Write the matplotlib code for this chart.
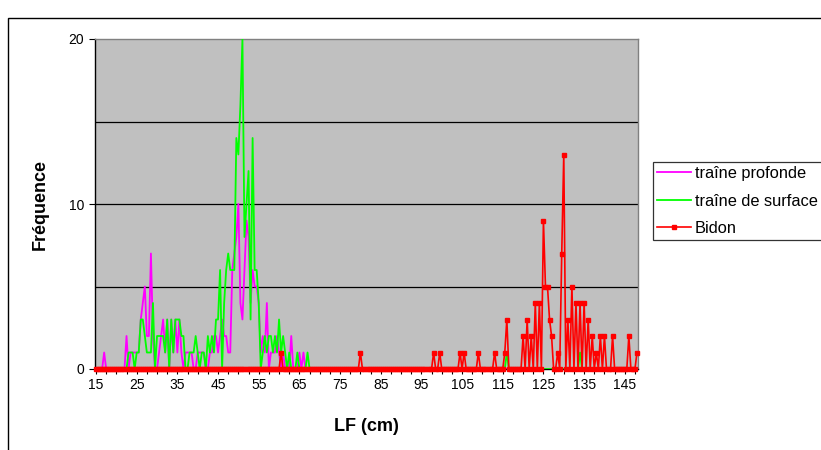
import matplotlib
matplotlib.use("Agg")
import matplotlib.pyplot as plt
from matplotlib.patches import Rectangle
import numpy as np

plt.rcParams["font.family"] = ["Liberation Sans", "DejaVu Sans"]

# LF classes (cm), 0.5 cm steps as in the source sheet
LF_START, LF_STOP, LF_STEP = 15.0, 148.0, 0.5

# traîne profonde: non-zero classes only
PROFONDE_LF = [17, 22.5, 23.5, 24, 24.5, 25, 25.5, 26, 26.5, 27, 27.5, 28, 28.5, 29,
               30.5, 31, 31.5, 32, 32.5, 33.5, 34, 34.5, 35, 35.5, 36, 37, 37.5, 38, 38.5,
               40, 40.5, 41, 41.5, 43, 43.5, 44, 44.5, 45, 45.5, 46, 46.5, 47, 47.5, 48,
               48.5, 49, 49.5, 50, 50.5, 51, 51.5, 52, 52.5, 53, 53.5, 54, 54.5, 55, 55.5,
               56, 56.5, 57, 58, 58.5, 59, 59.5, 60, 61, 63, 65, 66]
PROFONDE_N = [1, 2, 1, 1, 1, 1, 1, 3, 4, 5, 2, 2, 7, 2,
              1, 2, 3, 1, 3, 3, 1, 3, 1, 3, 1, 1, 1, 1, 1,
              1, 1, 1, 1, 1, 1, 2, 2, 1, 2, 3, 2, 2, 1, 1,
              6, 7, 8, 10, 4, 3, 6, 9, 8, 4, 6, 5, 5, 4, 1,
              2, 1, 4, 1, 1, 1, 2, 1, 1, 2, 1, 1]

# traîne de surface
SURFACE_LF = [23, 23.5, 24, 25, 25.5, 26, 26.5, 27, 27.5, 28, 28.5, 29, 30, 30.5, 31,
              31.5, 32, 32.5, 33.5, 34, 34.5, 35, 35.5, 36, 36.5, 38, 38.5, 39, 39.5, 40,
              41, 41.5, 42.5, 43, 43.5, 44, 44.5, 45, 45.5, 46.5, 47, 47.5, 48, 48.5, 49,
              49.5, 50, 50.5, 51, 51.5, 52, 52.5, 53, 53.5, 54, 54.5, 55, 56, 56.5, 57,
              57.5, 58, 58.5, 59, 59.5, 60, 60.5, 61, 61.5, 62.5, 64.5, 67, 116, 134]
SURFACE_N = [1, 1, 1, 1, 1, 3, 3, 2, 1, 1, 1, 4, 2, 2, 2,
             2, 1, 3, 3, 1, 3, 3, 3, 2, 2, 1, 1, 1, 2, 1,
             1, 1, 2, 1, 2, 1, 3, 3, 6, 4, 6, 7, 6, 6, 6,
             14, 13, 16, 20, 8, 10, 12, 3, 14, 6, 6, 4, 1, 2, 1,
             2, 2, 1, 2, 1, 3, 1, 2, 1, 1, 1, 1, 1, 1]

# Bidon
BIDON_LF = [60.5, 80, 98, 99.5, 104.5, 105.5, 109, 113, 115.5, 116, 120, 121, 122, 123,
            124, 125, 125.5, 126, 126.5, 127, 128.5, 129.5, 130, 131, 132, 133, 134, 135,
            136, 137, 138, 139, 140, 142, 146, 148]
BIDON_N = [1, 1, 1, 1, 1, 1, 1, 1, 1, 3, 2, 3, 2, 4,
           4, 9, 5, 5, 3, 2, 1, 7, 13, 3, 5, 4, 4, 4,
           3, 2, 1, 2, 2, 2, 2, 1]

X_LABELS = list(range(15, 146, 10))
Y_LABELS = [0, 10, 20]


def full_series(grid, lf, counts):
    lookup = {round(a * 2): n for a, n in zip(lf, counts)}
    return np.array([lookup.get(round(g * 2), 0) for g in grid], dtype=float)


def main() -> None:
    grid = np.arange(LF_START, LF_STOP + LF_STEP / 2, LF_STEP)
    profonde = full_series(grid, PROFONDE_LF, PROFONDE_N)
    surface = full_series(grid, SURFACE_LF, SURFACE_N)
    bidon = full_series(grid, BIDON_LF, BIDON_N)

    fig = plt.figure(figsize=(8.21, 4.5), dpi=100)
    ax = fig.add_axes([95 / 821, 81 / 450, 543 / 821, 330 / 450])
    ax.set_facecolor("#C0C0C0")

    for yv in (5, 10, 15):
        ax.axhline(yv, color="black", linewidth=0.9, zorder=1)

    ax.plot(grid, profonde, color="#FF00FF", linewidth=1.3, label="traîne profonde", zorder=2)
    ax.plot(grid, surface, color="#00FF00", linewidth=1.3, label="traîne de surface", zorder=3)
    ax.plot(grid, bidon, color="#FF0000", linewidth=1.2, marker="s", markersize=3.2,
            label="Bidon", zorder=4, clip_on=False)

    ax.set_xlim(14.75, 148.25)
    ax.set_ylim(0, 20)
    ax.set_xticks(X_LABELS)
    ax.set_xticklabels([str(v) for v in X_LABELS], fontsize=10)
    ax.set_xticks(np.arange(15, 148.1, 2.5), minor=True)
    ax.set_yticks(Y_LABELS)
    ax.set_yticklabels([str(v) for v in Y_LABELS], fontsize=10)
    ax.tick_params(axis="x", which="both", direction="out", length=3.5, width=0.8, pad=3)
    ax.tick_params(axis="y", direction="out", length=4, width=0.8, pad=4)

    for side in ("left", "bottom"):
        ax.spines[side].set_color("black")
        ax.spines[side].set_linewidth(1.0)
    for side in ("top", "right"):
        ax.spines[side].set_color("#808080")
        ax.spines[side].set_linewidth(1.0)

    ax.set_xlabel("LF (cm)", fontsize=13, fontweight="bold", labelpad=19)
    ax.set_ylabel("Fréquence", fontsize=13, fontweight="bold", labelpad=14)

    leg = fig.legend(loc="upper left", bbox_to_anchor=(653 / 821, 1 - 162 / 450),
                     fontsize=11.8, frameon=True, fancybox=False, borderpad=0.25,
                     labelspacing=0.76, handlelength=2.05, handletextpad=0.25,
                     borderaxespad=0)
    leg.get_frame().set_edgecolor("black")
    leg.get_frame().set_linewidth(0.9)

    fig.patches.append(Rectangle((8 / 821, -0.1), 1.2, 0.1 + (450 - 18) / 450,
                                 transform=fig.transFigure, fill=False,
                                 edgecolor="black", linewidth=1.0))

    fig.savefig("out.png", dpi=100)
    plt.close(fig)


if __name__ == "__main__":
    main()
